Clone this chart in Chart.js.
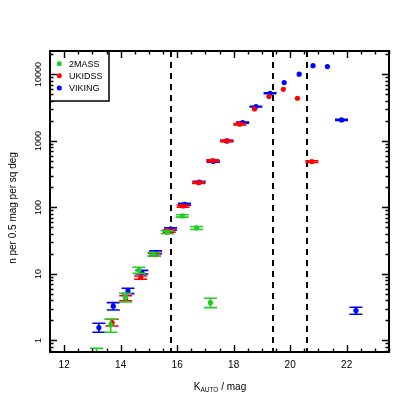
<!DOCTYPE html>
<html><head><meta charset="utf-8">
<script src="https://cdn.jsdelivr.net/npm/chart.js@4"></script>
<style>html,body{margin:0;padding:0;background:#fff}canvas{display:block}</style>
</head><body>
<canvas id="c" width="415" height="415"></canvas>
<script>
// ---- data ----
const xTickValues = [12, 14, 16, 18, 20, 22];
const yTickValues = [1, 10, 100, 1000, 10000];
const seriesNames = ['2MASS', 'UKIDSS', 'VIKING'];
const seriesColors = ['#22cc22', '#ff0000', '#0000ff'];
const cutLines = [15.78, 19.40, 20.60];

const mag2MASS = [13.15, 13.65, 14.17, 14.65, 15.17, 15.65, 16.18, 16.69, 17.18];
const n2MASS   = [0.60, 1.71, 4.47, 11.5, 19.8, 42.4, 74.5, 49.2, 3.70];
const lo2MASS  = [0.50, 1.33, 3.79, 10.2, 18.6, 40.3, 71.5, 46.8, 3.11];
const hi2MASS  = [0.76, 2.08, 5.12, 12.6, 21.0, 44.5, 77.5, 51.6, 4.30];

const magUKIDSS = [13.70, 14.18, 14.71, 15.20, 15.72, 16.21, 16.76, 17.26, 17.75, 18.22, 18.74, 19.25, 19.76, 20.26, 20.77];
const nUKIDSS   = [1.85, 4.31, 8.8, 19.5, 44.3, 105, 236, 506, 1000, 1783, 3030, 4636, 5985, 4385, 489];
const loUKIDSS  = [1.65, 3.95, 8.3, 18.6, 42.5, 101, 229, 492, 975, 1740, null, null, null, null, 474];
const hiUKIDSS  = [2.08, 4.70, 9.3, 20.5, 46.2, 109, 243, 520, 1025, 1830, null, null, null, null, 504];

const magVIKING = [13.23, 13.74, 14.26, 14.75, 15.24, 15.77, 16.26, 16.78, 17.28, 17.77, 18.32, 18.79, 19.29, 19.79, 20.32, 20.81, 21.32, 21.82, 22.33];
const nVIKING   = [1.56, 3.27, 5.55, 10.6, 21.2, 47.5, 111.7, 240, 490, 1000, 1884, 3280, 5210, 7530, 10070, 13560, 13100, 2070, 2.81];
const loVIKING  = [1.33, 2.87, 5.06, 10.0, 20.2, 45.8, 108, 233, 478, 980, 1850, 3230, 5140, null, null, null, null, 2030, 2.48];
const hiVIKING  = [1.81, 3.70, 6.10, 11.3, 22.2, 49.2, 115, 247, 502, 1020, 1920, 3330, 5280, null, null, null, null, 2110, 3.16];

const mags = [mag2MASS, magUKIDSS, magVIKING];
const vals = [n2MASS, nUKIDSS, nVIKING];
const los  = [lo2MASS, loUKIDSS, loVIKING];
const his  = [hi2MASS, hiUKIDSS, hiVIKING];

const FONT = '"Liberation Sans", Arial, Helvetica, sans-serif';
Chart.defaults.font.family = FONT;

const datasets = seriesNames.map((name, i) => ({
  label: name,
  data: mags[i].map((m, j) => ({x: m, y: vals[i][j]})),
  backgroundColor: seriesColors[i],
  borderColor: seriesColors[i],
  pointRadius: 2.6,
  pointBorderWidth: 0,
  pointHoverRadius: 2.6,
  showLine: false,
  clip: 0
}));

const decor = {
  id: 'decor',
  beforeDatasetsDraw(chart) {
    const {ctx, chartArea: a, scales: {x}} = chart;
    ctx.save();
    ctx.strokeStyle = '#000';
    ctx.lineWidth = 2;
    ctx.setLineDash([6, 5]);
    cutLines.forEach(v => {
      const px = Math.round(x.getPixelForValue(v));
      ctx.beginPath(); ctx.moveTo(px, a.top); ctx.lineTo(px, a.bottom); ctx.stroke();
    });
    ctx.restore();
  },
  afterDatasetDraw(chart, args) {
    const i = args.index;
    const {ctx, chartArea: a, scales: {x, y}} = chart;
    ctx.save();
    ctx.beginPath(); ctx.rect(a.left, a.top, a.right - a.left, a.bottom - a.top); ctx.clip();
    ctx.strokeStyle = seriesColors[i];
    ctx.lineWidth = 1.6;
    const cap = 6.5;
    mags[i].forEach((m, j) => {
      const lo = los[i][j], hi = his[i][j];
      if (lo == null || hi == null) return;
      const px = x.getPixelForValue(m);
      const y1 = y.getPixelForValue(lo), y2 = y.getPixelForValue(hi);
      ctx.beginPath();
      ctx.moveTo(px, y1); ctx.lineTo(px, y2);
      ctx.moveTo(px - cap, y1); ctx.lineTo(px + cap, y1);
      ctx.moveTo(px - cap, y2); ctx.lineTo(px + cap, y2);
      ctx.stroke();
    });
    ctx.restore();
  },
  afterDraw(chart) {
    const {ctx, chartArea: a, scales: {x, y}} = chart;
    ctx.save();
    // legend
    const lx = a.left, ly = a.top, lw = 59, lh = 50;
    ctx.fillStyle = '#fff';
    ctx.fillRect(lx, ly, lw, lh);
    ctx.strokeStyle = '#000'; ctx.lineWidth = 1.5;
    ctx.strokeRect(lx, ly, lw, lh);
    const rows = [63.8, 75.8, 88.0];
    ctx.font = '9px ' + FONT;
    ctx.textBaseline = 'middle'; ctx.textAlign = 'left';
    seriesNames.forEach((n, i) => {
      ctx.fillStyle = seriesColors[i];
      ctx.beginPath(); ctx.arc(lx + 9.3, rows[i], 2.5, 0, Math.PI * 2); ctx.fill();
      ctx.fillStyle = '#000';
      ctx.fillText(n, lx + 19, rows[i] + 0.5);
    });
    // frame
    ctx.strokeStyle = '#000'; ctx.lineWidth = 2;
    ctx.strokeRect(a.left, a.top, a.right - a.left, a.bottom - a.top);
    // x ticks (inward, bottom and top)
    ctx.lineWidth = 1.4;
    for (let k = 0; k <= 24; k++) {
      const v = 11.5 + k * 0.5;
      const major = xTickValues.includes(v);
      const len = major ? 7 : 3.5;
      const px = Math.round(x.getPixelForValue(v)) + 0.5;
      ctx.beginPath();
      ctx.moveTo(px, a.bottom); ctx.lineTo(px, a.bottom - len);
      ctx.moveTo(px, a.top); ctx.lineTo(px, a.top + len);
      ctx.stroke();
    }
    // y ticks (inward, left and right)
    for (let d = -1; d <= 4; d++) {
      for (let k = 1; k <= 9; k++) {
        const v = k * Math.pow(10, d);
        if (v < y.min || v > y.max) continue;
        const len = k === 1 ? 7 : 3.5;
        const py = Math.round(y.getPixelForValue(v)) + 0.5;
        ctx.beginPath();
        ctx.moveTo(a.left, py); ctx.lineTo(a.left + len, py);
        ctx.moveTo(a.right, py); ctx.lineTo(a.right - len, py);
        ctx.stroke();
      }
    }
    // y tick labels (rotated)
    ctx.fillStyle = '#000';
    ctx.font = '9px ' + FONT;
    ctx.textAlign = 'center'; ctx.textBaseline = 'middle';
    yTickValues.forEach(v => {
      const py = y.getPixelForValue(v);
      ctx.save(); ctx.translate(39, py); ctx.rotate(-Math.PI / 2);
      ctx.fillText(String(v), 0, 0); ctx.restore();
    });
    // y title
    ctx.font = '10px ' + FONT;
    ctx.save(); ctx.translate(13, 208); ctx.rotate(-Math.PI / 2);
    ctx.fillText('n per 0.5 mag per sq deg', 0, 0); ctx.restore();
    // x title with subscript
    ctx.textAlign = 'left'; ctx.textBaseline = 'alphabetic';
    const fMain = '10px ' + FONT, fSub = '6.5px ' + FONT;
    ctx.font = fMain; const wK = ctx.measureText('K').width;
    ctx.font = fSub; const wS = ctx.measureText('AUTO').width;
    ctx.font = fMain; const wR = ctx.measureText(' / mag').width;
    let sx = 220 - (wK + wS + wR) / 2;
    const by = 390;
    ctx.font = fMain; ctx.fillText('K', sx, by); sx += wK;
    ctx.font = fSub; ctx.fillText('AUTO', sx, by + 2); sx += wS;
    ctx.font = fMain; ctx.fillText(' / mag', sx, by);
    ctx.restore();
  }
};

new Chart(document.getElementById('c'), {
  type: 'scatter',
  data: {datasets},
  options: {
    responsive: false,
    animation: false,
    devicePixelRatio: 1,
    layout: {padding: {top: 51, right: 26, left: 0, bottom: 0}},
    plugins: {legend: {display: false}, tooltip: {enabled: false}},
    scales: {
      x: {
        type: 'linear', position: 'bottom', min: 11.5, max: 23.5,
        afterBuildTicks: ax => { ax.ticks = xTickValues.map(v => ({value: v})); },
        grid: {display: false, drawTicks: false},
        border: {display: false},
        ticks: {color: '#000', font: {size: 10}, padding: 7, maxRotation: 0, autoSkip: false},
        afterFit: s => { s.height = 63; }
      },
      y: {
        type: 'logarithmic', position: 'left', min: 0.67, max: 22500,
        afterBuildTicks: ax => { ax.ticks = yTickValues.map(v => ({value: v})); },
        grid: {display: false, drawTicks: false},
        border: {display: false},
        ticks: {display: false},
        afterFit: s => { s.width = 50; }
      }
    }
  },
  plugins: [decor]
});
</script>
</body></html>
